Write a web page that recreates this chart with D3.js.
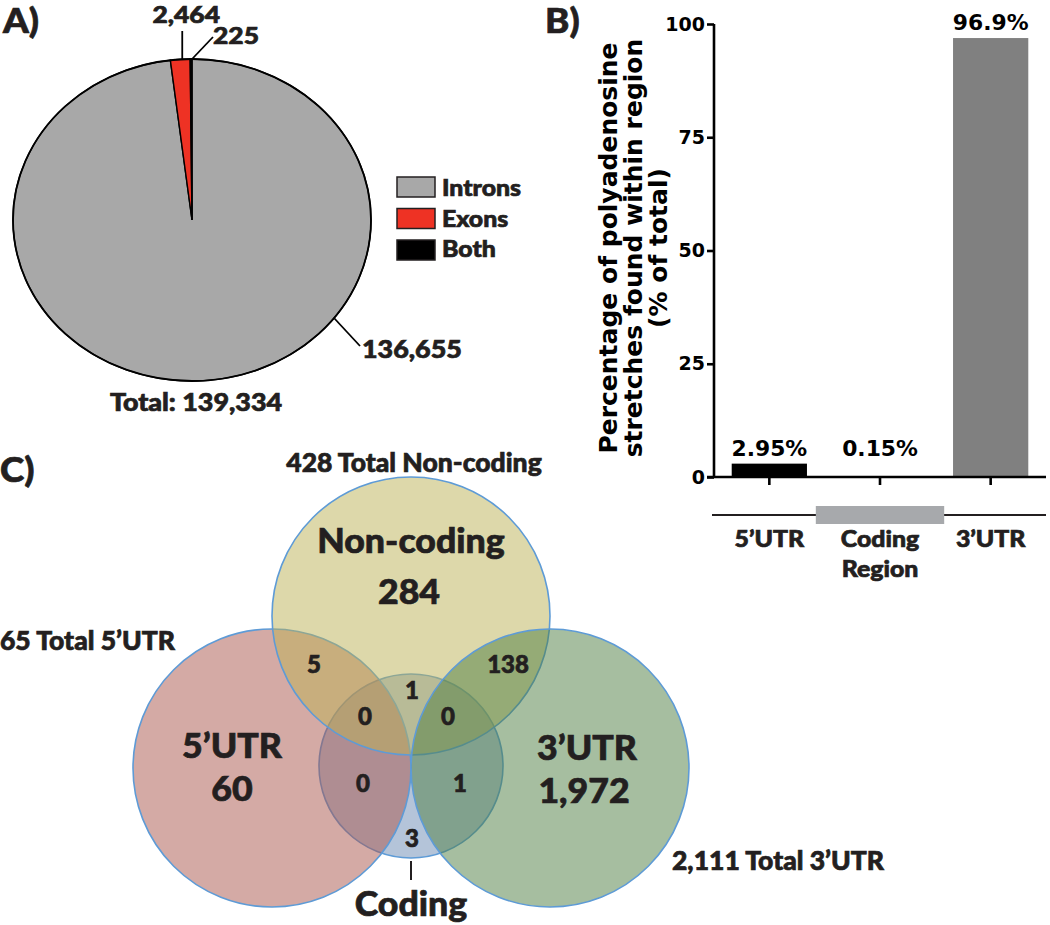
<!DOCTYPE html>
<html>
<head>
<meta charset="utf-8">
<script src="https://cdn.jsdelivr.net/npm/d3@7"></script>
<style>
  body { margin: 0; background: #fff; }
  text { font-family: Lato, "Open Sans", sans-serif; font-weight: 900; fill: #231f20; stroke: #231f20; stroke-width: 0.7px; }
  text.prism { font-family: "DejaVu Sans", sans-serif; font-weight: 700; fill: #000; stroke: none; }
</style>
</head>
<body>
<svg id="fig" width="1050" height="925"></svg>
<script>
// ---- A) pie data
var pieLabels = ["Introns", "Exons", "Both"];
var pieValues = [136655, 2464, 225];
var pieColors = ["#a8a8a8", "#ee3224", "#000000"];
var pieTotal = 139334; // as printed in the figure

// ---- B) bar data
var barCats = ["5\u2019UTR", "Coding Region", "3\u2019UTR"];
var barValues = [2.95, 0.15, 96.9];
var barLabels = ["2.95%", "0.15%", "96.9%"];
var barColors = ["#000000", "#000000", "#808080"];
var yTicks = [0, 25, 50, 75, 100];
var yTitle = ["Percentage of polyadenosine", "stretches found within region", "(% of total)"];

// ---- C) venn data
var vennNames = ["5\u2019UTR", "Non-coding", "3\u2019UTR", "Coding"];
var vennOnly = [60, 284, 1972, 3];
var vennColors = ["#d4aaa5", "#ddd8aa", "#a6bea0", "#b4c4d9"];
// overlaps: NC&5', NC&3', NC&Cod, NC&5'&Cod, NC&3'&Cod, 5'&Cod, 3'&Cod
var vennOverlaps = [5, 138, 1, 0, 0, 0, 1];

var fmt = d3.format(",");
var svg = d3.select("#fig");

// helper for text that is a bit wider than the font (figure was stretched)
function txt(g, x, y, s, size, anchor, sx, cls) {
  return g.append("text")
    .attr("class", cls || null)
    .attr("transform", "translate(" + x + "," + y + ") scale(" + (sx || 1) + ",1)")
    .attr("text-anchor", anchor || "start")
    .style("font-size", size + "px")
    .text(s);
}

// ================= A) pie =================
var pa = svg.append("g");
var cx = 192, cy = 220, ry = 161, rx = 179;
var sxA = rx / ry;
txt(pa, 3, 33, "A)", 35, "start", 1.05);

var pie = d3.pie().sort(null).value(function(d) { return d; });
var arcs = pie(pieValues);
var arc = d3.arc().innerRadius(0).outerRadius(ry);
var pieG = pa.append("g").attr("transform", "translate(" + cx + "," + cy + ") scale(" + sxA + ",1)");
pieG.selectAll("path")
  .data(arcs)
  .enter()
  .append("path")
  .attr("d", arc)
  .attr("fill", function(d, i) { return pieColors[i]; })
  .attr("stroke", "#000")
  .attr("stroke-width", 1.4)
  .attr("vector-effect", "non-scaling-stroke");
pieG.append("ellipse").attr("rx", ry).attr("ry", ry).attr("fill", "none")
  .attr("stroke", "#000").attr("stroke-width", 1.8).attr("vector-effect", "non-scaling-stroke");

function edge(a) { return [cx + rx * Math.sin(a), cy - ry * Math.cos(a)]; }
var aEx = (arcs[1].startAngle + arcs[1].endAngle) / 2;
var aBo = (arcs[2].startAngle + arcs[2].endAngle) / 2;
var pEx = edge(aEx), pBo = edge(aBo), pIn = edge(127.5 * Math.PI / 180);
var leader = pa.append("g").attr("stroke", "#000").attr("stroke-width", 1.8);
leader.append("line").attr("x1", pEx[0] + 2).attr("y1", pEx[1]).attr("x2", pEx[0] + 2).attr("y2", 31);
leader.append("line").attr("x1", pBo[0] + 1).attr("y1", pBo[1]).attr("x2", 213).attr("y2", 37);
leader.append("line").attr("x1", pIn[0]).attr("y1", pIn[1]).attr("x2", pIn[0] + 26).attr("y2", pIn[1] + 28);
txt(pa, pEx[0] + 6, 23, fmt(pieValues[1]), 22, "middle", 1.2);
txt(pa, 213, 44, fmt(pieValues[2]), 23, "start", 1.15);
txt(pa, pIn[0] + 28, pIn[1] + 40, fmt(pieValues[0]), 24, "start", 1.12);
txt(pa, cx + 4, 411, "Total: " + fmt(pieTotal), 24, "middle", 1.12);

var leg = pa.append("g");
pieLabels.forEach(function(l, i) {
  leg.append("rect").attr("x", 397).attr("y", 177 + i * 31.5).attr("width", 38).attr("height", 20)
    .attr("fill", pieColors[i]).attr("stroke", "#231f20").attr("stroke-width", 1.5);
  txt(leg, 442, 196 + i * 30.5, l, 23, "start", 1.08);
});

// ================= B) bars =================
var pb = svg.append("g");
txt(pb, 545, 33, "B)", 35, "start", 1.05);
var y = d3.scaleLinear().domain([0, 100]).range([477, 24]);
var x = d3.scaleBand().domain(barCats).range([714, 1046]).paddingInner(0.32).paddingOuter(0.16);

pb.selectAll("rect.bar")
  .data(barValues)
  .enter()
  .append("rect")
  .attr("class", "bar")
  .attr("x", function(d, i) { return x(barCats[i]); })
  .attr("width", x.bandwidth())
  .attr("y", function(d) { return y(d); })
  .attr("height", function(d) { return y(0) - y(d); })
  .attr("fill", function(d, i) { return barColors[i]; });

var yAxis = pb.append("g").attr("transform", "translate(714,0)")
  .call(d3.axisLeft(y).tickValues(yTicks).tickSize(7).tickPadding(2));
yAxis.select(".domain").attr("stroke-width", 2.6).attr("d", "M0,24V477");
yAxis.selectAll(".tick line").attr("stroke-width", 2.6);
yAxis.selectAll(".tick text").attr("class", "prism").style("font-size", "19px")
  .style("font-family", "'DejaVu Sans', sans-serif").style("font-weight", 700).attr("fill", "#000");

var xAxis = pb.append("g").attr("transform", "translate(0," + y(0) + ")")
  .call(d3.axisBottom(x).tickSize(8).tickFormat(""));
xAxis.select(".domain").attr("stroke-width", 2.6).attr("d", "M707,0H1046");
xAxis.selectAll(".tick line").attr("stroke-width", 2.6);

barValues.forEach(function(v, i) {
  var yy = Math.min(y(v), y(0) - 13.5) - 8;
  txt(pb, x(barCats[i]) + x.bandwidth() / 2, yy, barLabels[i], 21, "middle", 1.04, "prism");
});

yTitle.forEach(function(t, i) {
  pb.append("text").attr("class", "prism")
    .attr("transform", "translate(" + (617 + i * 25) + ",248) rotate(-90)")
    .attr("text-anchor", "middle").style("font-size", "25px").text(t);
});

// region strip under the axis
var step = x.step();
var cCod = x(barCats[1]) + x.bandwidth() / 2;
pb.append("line").attr("x1", 712).attr("x2", 1046).attr("y1", 515).attr("y2", 515)
  .attr("stroke", "#231f20").attr("stroke-width", 2);
pb.append("rect").attr("x", cCod - step * 0.58).attr("width", step * 1.16).attr("y", 506).attr("height", 18)
  .attr("fill", "#a7a9ac");
barCats.forEach(function(c, i) {
  var xc = x(c) + x.bandwidth() / 2;
  var words = c.split(" ");
  words.forEach(function(w, j) { txt(pb, xc, 547 + j * 30, w, 23, "middle", 1.08); });
});

// ================= C) venn =================
var pc = svg.append("g");
txt(pc, 0, 482, "C)", 35, "start", 1.05);
var R = 139, r = 92;
var vx = 411, vy = 716;
// layout: 5'UTR, Non-coding, 3'UTR, Coding
var vennLayout = [
  { x: vx - R, y: vy + 52, r: R },
  { x: vx, y: vy - 100, r: R },
  { x: vx + R, y: vy + 52, r: R },
  { x: vx, y: vy + 50, r: r }
];
var drawOrder = [3, 0, 1, 2];
pc.selectAll("circle")
  .data(drawOrder)
  .enter()
  .append("circle")
  .attr("cx", function(k) { return vennLayout[k].x; })
  .attr("cy", function(k) { return vennLayout[k].y; })
  .attr("r", function(k) { return vennLayout[k].r; })
  .attr("fill", function(k) {
    var c = d3.rgb(vennColors[k]);
    return d3.rgb(2 * c.r - 255, 2 * c.g - 255, 2 * c.b - 255);
  })
  .attr("fill-opacity", 0.5)
  .attr("stroke", "#5e9bd6")
  .attr("stroke-width", 1.6);

var vText = pc.append("g");
var nc = vennLayout[1], u5 = vennLayout[0], u3 = vennLayout[2], cd = vennLayout[3];
txt(vText, nc.x, nc.y - 63, vennNames[1], 35, "middle", 1.02);
txt(vText, nc.x - 2, nc.y - 12, fmt(vennOnly[1]), 35, "middle", 1.02);
txt(vText, u5.x - 40, u5.y - 10, vennNames[0], 35, "middle", 1.02);
txt(vText, u5.x - 40, u5.y + 33, fmt(vennOnly[0]), 35, "middle", 1.02);
txt(vText, u3.x + 37, u3.y - 8, vennNames[2], 35, "middle", 1.02);
txt(vText, u3.x + 34, u3.y + 35, fmt(vennOnly[2]), 35, "middle", 1.02);
txt(vText, cd.x, cd.y + 150, vennNames[3], 35, "middle", 1.02);
pc.append("line").attr("x1", cd.x).attr("x2", cd.x).attr("y1", cd.y + 95).attr("y2", cd.y + 114)
  .attr("stroke", "#231f20").attr("stroke-width", 2);

txt(vText, nc.x + 3, nc.y - R - 5, vennOnly[1] + vennOverlaps[0] + vennOverlaps[1] + vennOverlaps[2] + vennOverlaps[3] + vennOverlaps[4] + " Total " + vennNames[1], 26, "middle", 1.02);
txt(vText, 0, 650, vennOnly[0] + vennOverlaps[0] + vennOverlaps[3] + vennOverlaps[5] + " Total " + vennNames[0], 26, "start", 1.02);
txt(vText, 672, 870, fmt(vennOnly[2] + vennOverlaps[1] + vennOverlaps[4] + vennOverlaps[6]) + " Total " + vennNames[2], 26, "start", 1.02);

// small region counts: coding-only, then overlaps in the order of vennOverlaps
var smallAnchors = [
  [cd.x + 1, cd.y + 81],
  [nc.x - 97, nc.y + 57], [nc.x + 97, nc.y + 57], [nc.x + 1, nc.y + 83],
  [nc.x - 46, nc.y + 109], [nc.x + 37, nc.y + 109],
  [cd.x - 48, cd.y + 26], [cd.x + 49, cd.y + 26]
];
var smallVals = [vennOnly[3]].concat(vennOverlaps);
smallVals.forEach(function(v, i) {
  txt(vText, smallAnchors[i][0], smallAnchors[i][1], fmt(v), 24, "middle", 1);
});
</script>
</body>
</html>
